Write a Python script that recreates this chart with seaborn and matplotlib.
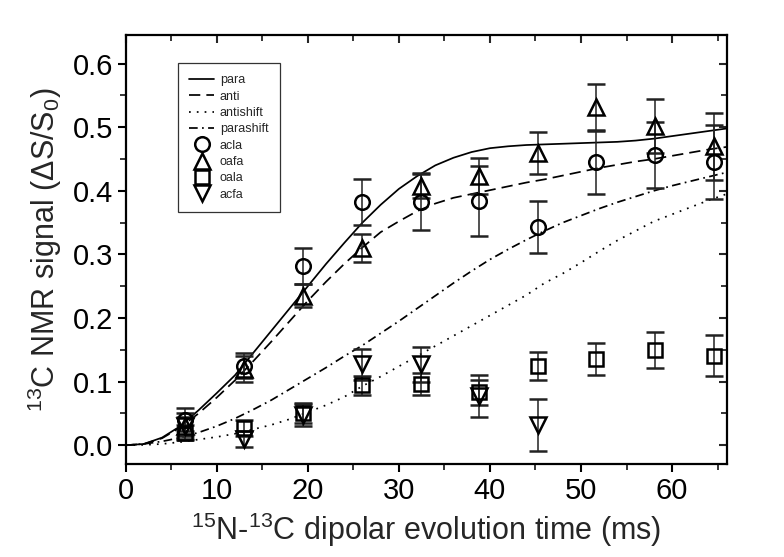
import numpy as np
import pandas as pd
import matplotlib
matplotlib.use("Agg")
import matplotlib.pyplot as plt
from matplotlib.lines import Line2D
from matplotlib.ticker import MultipleLocator
import seaborn as sns

# -----------------------------
# Data
# -----------------------------
t_exp = [6.5, 13.0, 19.5, 25.9, 32.4, 38.8, 45.3, 51.7, 58.1, 64.6]

acla_y = [0.040, 0.125, 0.282, 0.382, 0.382, 0.384, 0.343, 0.445, 0.456, 0.445]
acla_err = [0.018, 0.020, 0.028, 0.036, 0.044, 0.055, 0.041, 0.050, 0.052, 0.058]

oafa_y = [0.030, 0.120, 0.235, 0.310, 0.408, 0.423, 0.460, 0.531, 0.502, 0.470]
oafa_err = [0.015, 0.020, 0.018, 0.022, 0.020, 0.028, 0.033, 0.037, 0.042, 0.053]

oala_y = [0.020, 0.027, 0.050, 0.094, 0.096, 0.083, 0.124, 0.135, 0.150, 0.141]
oala_err = [0.012, 0.012, 0.015, 0.015, 0.017, 0.020, 0.022, 0.025, 0.028, 0.032]

t_acfa = [6.5, 13.0, 19.5, 25.9, 32.4, 38.8, 45.3]
acfa_y = [0.030, 0.010, 0.048, 0.127, 0.127, 0.078, 0.032]
acfa_err = [0.020, 0.013, 0.018, 0.024, 0.027, 0.033, 0.041]

# simulated curves
t_sim = [0, 2, 4, 6, 8, 10, 12, 14, 16, 18, 20, 22, 24, 26, 28, 30, 32,
         34, 36, 38, 40, 42, 44, 46, 48, 50, 52, 54, 56, 58, 60, 62, 64, 66]
para = [0.0, 0.002, 0.012, 0.030, 0.055, 0.082, 0.110, 0.145, 0.180, 0.215,
        0.250, 0.285, 0.318, 0.350, 0.378, 0.403, 0.423, 0.440, 0.452, 0.461,
        0.467, 0.470, 0.472, 0.473, 0.474, 0.475, 0.476, 0.477, 0.479, 0.482,
        0.486, 0.490, 0.494, 0.498]
anti = [0.0, 0.002, 0.011, 0.028, 0.050, 0.075, 0.102, 0.132, 0.163, 0.195,
        0.227, 0.257, 0.285, 0.311, 0.335, 0.352, 0.368, 0.380, 0.389, 0.395,
        0.401, 0.407, 0.413, 0.418, 0.424, 0.430, 0.436, 0.441, 0.446, 0.450,
        0.455, 0.460, 0.465, 0.469]
antishift = [0.0, 0.0005, 0.002, 0.005, 0.009, 0.013, 0.018, 0.025, 0.032, 0.041,
             0.052, 0.063, 0.076, 0.093, 0.108, 0.124, 0.140, 0.156, 0.172, 0.188,
             0.204, 0.220, 0.236, 0.255, 0.270, 0.287, 0.305, 0.322, 0.337, 0.352,
             0.363, 0.374, 0.385, 0.395]
parashift = [0.0, 0.002, 0.006, 0.012, 0.020, 0.030, 0.042, 0.056, 0.071, 0.088,
             0.105, 0.122, 0.140, 0.157, 0.176, 0.195, 0.215, 0.235, 0.255, 0.274,
             0.292, 0.308, 0.323, 0.337, 0.350, 0.361, 0.372, 0.382, 0.391, 0.400,
             0.408, 0.415, 0.422, 0.429]

# -----------------------------
# Style
# -----------------------------
sns.set_theme(style="ticks")
plt.rcParams["font.family"] = ["Liberation Sans", "DejaVu Sans"]
plt.rcParams["mathtext.default"] = "regular"

LS = {
    "para": "-",
    "anti": (0, (6.5, 3.5)),
    "antishift": (0, (1, 3.5)),
    "parashift": (0, (5, 2.5, 1, 2.5)),
}
curves = {"para": para, "anti": anti, "antishift": antishift, "parashift": parashift}

fig = plt.figure(figsize=(7.84, 5.57), dpi=100)
ax = fig.add_axes([0.1603, 0.1664, 0.7666, 0.7708])

for name, vals in curves.items():
    sns.lineplot(x=t_sim, y=vals, ax=ax, color="black", lw=1.25,
                 linestyle=LS[name], estimator=None, sort=False)

points = [
    ("acla", "o", t_exp, acla_y, acla_err),
    ("oafa", "^", t_exp, oafa_y, oafa_err),
    ("oala", "s", t_exp, oala_y, oala_err),
    ("acfa", "v", t_acfa, acfa_y, acfa_err),
]
msize = {"o": 10.5, "^": 11.5, "s": 9.5, "v": 11.5}
for name, m, xs, ys, es in points:
    ax.errorbar(xs, ys, yerr=es, fmt=m, ms=msize[m], mfc="none", mec="black",
                mew=1.8, ecolor="#222222", elinewidth=1.1, capsize=6.5,
                capthick=1.1, zorder=3)

ax.set_xlim(0, 66)
ax.set_ylim(-0.03, 0.645)
ax.xaxis.set_major_locator(MultipleLocator(10))
ax.xaxis.set_minor_locator(MultipleLocator(5))
ax.yaxis.set_major_locator(MultipleLocator(0.1))
ax.yaxis.set_minor_locator(MultipleLocator(0.05))
ax.yaxis.set_major_formatter(matplotlib.ticker.FormatStrFormatter("%.1f"))

for sp in ax.spines.values():
    sp.set_linewidth(1.6)
    sp.set_color("black")

ax.tick_params(which="major", direction="out", length=6, width=1.5,
               labelsize=21, pad=3, colors="black")
ax.tick_params(which="minor", direction="out", length=4, width=1.3)

# inward ticks on top / right
top = ax.secondary_xaxis("top")
top.xaxis.set_major_locator(MultipleLocator(10))
top.xaxis.set_minor_locator(MultipleLocator(5))
top.tick_params(which="major", direction="in", length=6, width=1.5, labeltop=False)
top.tick_params(which="minor", direction="in", length=4, width=1.3)
right = ax.secondary_yaxis("right")
right.yaxis.set_major_locator(MultipleLocator(0.1))
right.yaxis.set_minor_locator(MultipleLocator(0.05))
right.tick_params(which="major", direction="in", length=6, width=1.5, labelright=False)
right.tick_params(which="minor", direction="in", length=4, width=1.3)

ax.set_xlabel(r"$^{15}$N-$^{13}$C dipolar evolution time (ms)", fontsize=22, labelpad=4)
ax.set_ylabel(r"$^{13}$C NMR signal ($\Delta$S/S$_0$)", fontsize=22, labelpad=6)

# -----------------------------
# Legend
# -----------------------------
handles = [Line2D([], [], color="black", lw=1.25, linestyle=LS[n]) for n in curves]
handles += [Line2D([], [], color="black", marker=m, ms=msize[m], mfc="none",
                   mew=1.8, linestyle="none") for _, m, _, _, _ in points]
labels = list(curves) + [p[0] for p in points]
leg = ax.legend(handles, labels, loc="upper left", bbox_to_anchor=(0.087, 0.935),
                borderaxespad=0, fontsize=9, frameon=True, fancybox=False,
                handlelength=2.0, handletextpad=0.45, labelspacing=0.35,
                borderpad=0.9)
leg.get_frame().set_edgecolor("black")
leg.get_frame().set_linewidth(0.9)

fig.savefig("out.png", dpi=100)
